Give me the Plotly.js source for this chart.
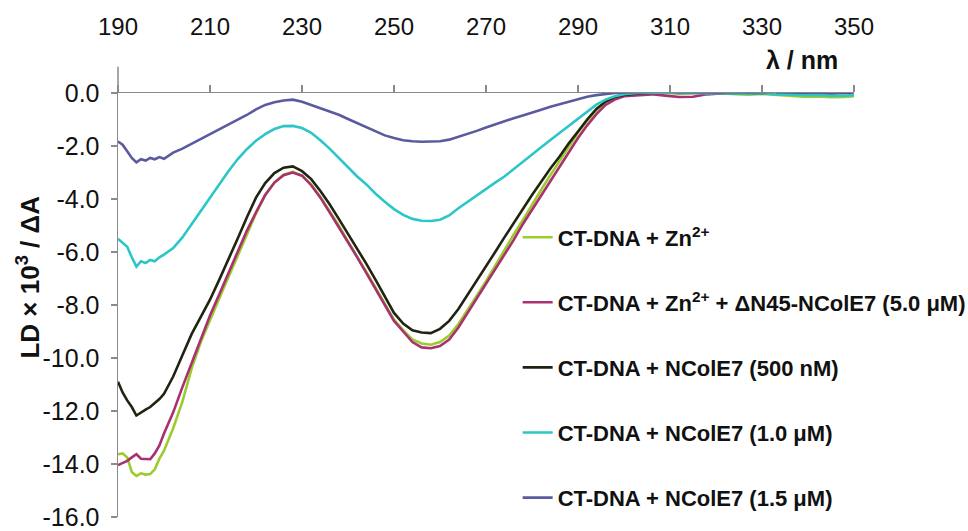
<!DOCTYPE html>
<html>
<head>
<meta charset="utf-8">
<script src="https://cdn.plot.ly/plotly-3.0.1.min.js"></script>
<style>html,body{margin:0;padding:0;background:#fff;}#chart{width:968px;height:531px;}</style>
</head>
<body>
<div id="chart"></div>
<script>
const wavelength = [190,191,192,193,194,195,196,197,198,199,200,202,204,206,208,210,212,214,216,218,220,222,224,226,228,230,232,234,236,238,240,242,244,246,248,250,252,254,256,258,260,262,264,266,268,270,272,274,276,278,280,282,284,286,288,290,292,294,296,298,300,303,306,309,312,315,318,321,324,327,330,333,336,339,342,345,348,350];

const ldZn = [-13.63,-13.6,-13.75,-14.3,-14.45,-14.35,-14.4,-14.38,-14.2,-13.8,-13.5,-12.65,-11.65,-10.4,-9.4,-8.55,-7.75,-6.95,-6.15,-5.3,-4.55,-3.85,-3.38,-3.08,-2.98,-3.12,-3.45,-3.92,-4.45,-5.0,-5.6,-6.15,-6.75,-7.35,-7.95,-8.55,-8.95,-9.3,-9.45,-9.5,-9.4,-9.15,-8.72,-8.2,-7.65,-7.1,-6.5,-5.95,-5.35,-4.8,-4.2,-3.65,-3.1,-2.55,-2.02,-1.5,-1.05,-0.65,-0.35,-0.17,-0.08,-0.03,0.0,0.0,-0.02,0.0,-0.03,-0.02,-0.05,-0.06,-0.04,-0.08,-0.1,-0.14,-0.13,-0.16,-0.15,-0.12];

const ldZnDN45 = [-14.04,-13.95,-13.88,-13.75,-13.63,-13.8,-13.82,-13.82,-13.6,-13.3,-12.85,-12.05,-11.1,-10.2,-9.3,-8.4,-7.6,-6.8,-6.0,-5.2,-4.5,-3.85,-3.38,-3.1,-3.0,-3.12,-3.48,-3.95,-4.5,-5.05,-5.65,-6.2,-6.8,-7.4,-8.0,-8.6,-9.0,-9.4,-9.6,-9.63,-9.55,-9.3,-8.85,-8.3,-7.8,-7.25,-6.65,-6.1,-5.55,-4.95,-4.4,-3.85,-3.3,-2.75,-2.2,-1.7,-1.22,-0.8,-0.45,-0.25,-0.12,-0.08,-0.05,-0.1,-0.15,-0.14,-0.05,-0.02,0.0,-0.03,-0.02,0.0,-0.04,-0.02,0.0,-0.03,0.0,0.02];

const ld500nM = [-10.9,-11.3,-11.6,-11.85,-12.17,-12.05,-11.95,-11.85,-11.7,-11.55,-11.35,-10.7,-9.9,-9.1,-8.45,-7.8,-7.05,-6.3,-5.5,-4.7,-3.95,-3.4,-3.02,-2.82,-2.77,-2.95,-3.25,-3.7,-4.2,-4.75,-5.3,-5.85,-6.45,-7.05,-7.65,-8.3,-8.7,-8.95,-9.04,-9.06,-8.9,-8.6,-8.15,-7.62,-7.1,-6.55,-6.0,-5.45,-4.9,-4.35,-3.85,-3.35,-2.85,-2.4,-1.9,-1.45,-1.0,-0.6,-0.32,-0.15,-0.07,-0.02,0.0,0.02,0.0,0.01,0.0,0.02,0.0,-0.02,0.0,-0.01,0.0,0.01,-0.02,0.0,0.02,0.05];

const ld1uM = [-5.5,-5.65,-5.8,-6.2,-6.55,-6.35,-6.42,-6.3,-6.35,-6.2,-6.1,-5.85,-5.45,-4.95,-4.45,-3.93,-3.45,-2.95,-2.5,-2.12,-1.8,-1.55,-1.36,-1.25,-1.24,-1.32,-1.5,-1.78,-2.1,-2.45,-2.8,-3.15,-3.45,-3.8,-4.1,-4.38,-4.6,-4.75,-4.82,-4.83,-4.78,-4.62,-4.35,-4.1,-3.85,-3.6,-3.38,-3.15,-2.88,-2.62,-2.35,-2.05,-1.77,-1.5,-1.22,-0.95,-0.68,-0.44,-0.25,-0.12,-0.05,0.0,0.0,0.02,0.0,0.01,-0.02,0.0,-0.02,-0.03,-0.01,-0.05,-0.06,-0.08,-0.07,-0.1,-0.1,-0.08];

const ld15uM = [-1.83,-1.95,-2.2,-2.45,-2.62,-2.5,-2.55,-2.45,-2.5,-2.42,-2.48,-2.25,-2.1,-1.92,-1.75,-1.57,-1.38,-1.2,-1.0,-0.83,-0.62,-0.45,-0.35,-0.28,-0.25,-0.33,-0.45,-0.57,-0.68,-0.82,-0.98,-1.13,-1.3,-1.45,-1.6,-1.7,-1.78,-1.82,-1.84,-1.83,-1.82,-1.76,-1.65,-1.55,-1.43,-1.3,-1.18,-1.05,-0.95,-0.85,-0.75,-0.63,-0.52,-0.42,-0.32,-0.22,-0.14,-0.08,-0.03,0.0,0.02,0.03,0.02,0.05,0.03,0.02,0.03,0.02,0.04,0.02,0.03,0.05,0.03,0.02,0.03,0.0,0.02,0.04];

const seriesNames = [
  'CT-DNA + Zn<sup>2+</sup>',
  'CT-DNA + Zn<sup>2+</sup> + ΔN45-NColE7 (5.0 μM)',
  'CT-DNA + NColE7 (500 nM)',
  'CT-DNA + NColE7 (1.0 μM)',
  'CT-DNA + NColE7 (1.5 μM)'
];
const seriesValues = [ldZn, ldZnDN45, ld500nM, ld1uM, ld15uM];
const seriesColors = ['#9ccc2c', '#a8326f', '#1f2412', '#2cc6c9', '#5b5a9f'];

const xTicks = [190,210,230,250,270,290,310,330,350];
const yTicks = [0,-2,-4,-6,-8,-10,-12,-14,-16];

const traces = seriesValues.map((vals, i) => ({
  x: wavelength,
  y: vals,
  type: 'scatter',
  mode: 'lines',
  name: seriesNames[i],
  legendgroup: 'g' + i,
  line: {color: seriesColors[i], width: 2.6, shape: 'linear'}
}));

const fam = 'Liberation Sans, Arial, sans-serif';

const layout = {
  width: 968,
  height: 531,
  margin: {l: 118, r: 114, t: 93, b: 14, autoexpand: false},
  paper_bgcolor: '#fff',
  plot_bgcolor: '#fff',
  showlegend: true,
  legend: {
    x: 0.543, y: 0.709, xanchor: 'left', yanchor: 'top',
    font: {family: fam, size: 22, color: '#111', weight: 'bold'},
    tracegroupgap: 33.5,
    bgcolor: 'rgba(0,0,0,0)'
  },
  xaxis: {
    side: 'top',
    range: [190, 350],
    tickvals: xTicks,
    ticktext: xTicks.map(String),
    ticks: 'outside',
    ticklen: 7,
    tickcolor: '#8a8a8a',
    tickwidth: 1.3,
    showline: true,
    linecolor: '#8a8a8a',
    linewidth: 1.5,
    showgrid: false,
    zeroline: false,
    ticklabelstandoff: 40,
    tickfont: {family: fam, size: 24, color: '#111'}
  },
  yaxis: {
    range: [-16, 0],
    tickvals: yTicks,
    ticktext: yTicks.map(v => v.toFixed(1)),
    ticks: 'outside',
    ticklen: 6,
    tickcolor: '#8a8a8a',
    tickwidth: 1.3,
    showline: true,
    linecolor: '#8a8a8a',
    linewidth: 1.5,
    showgrid: false,
    zeroline: false,
    ticklabelstandoff: 6,
    tickfont: {family: fam, size: 25, color: '#111'}
  },
  shapes: [{
    type: 'line', xref: 'paper', yref: 'paper',
    x0: 0, x1: 0, y0: 1, y1: 1.062,
    line: {color: '#8a8a8a', width: 1.5}
  }],
  annotations: [{
    text: 'λ / nm', xref: 'paper', yref: 'paper',
    x: 0.93, y: 1.078, xanchor: 'center', yanchor: 'middle', showarrow: false,
    font: {family: fam, size: 25, color: '#111', weight: 'bold'}
  }, {
    text: 'LD × 10<sup>3</sup> / ΔA', xref: 'paper', yref: 'paper',
    x: -0.121, y: 0.567, xanchor: 'center', yanchor: 'middle', showarrow: false,
    textangle: -90,
    font: {family: fam, size: 26, color: '#111', weight: 'bold'}
  }]
};

Plotly.newPlot('chart', traces, layout, {displayModeBar: false, staticPlot: true});
</script>
</body>
</html>
